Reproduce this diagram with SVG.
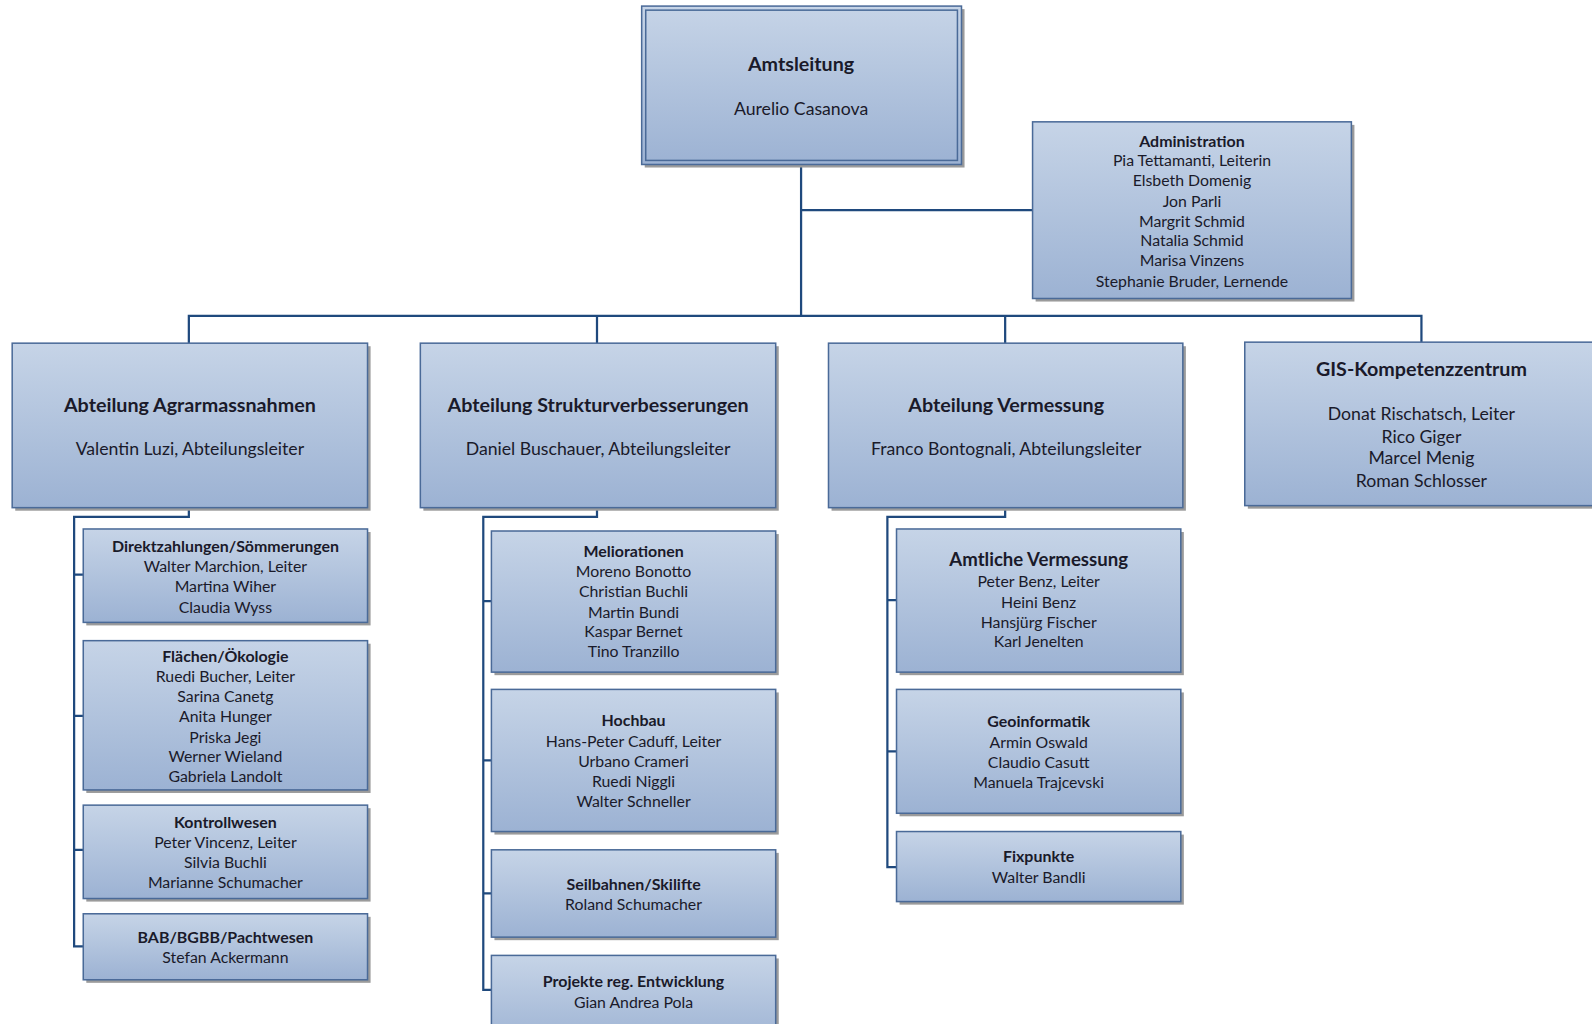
<svg xmlns="http://www.w3.org/2000/svg" width="1592" height="1024" viewBox="0 0 1592 1024">
<defs>
<linearGradient id="g" x1="0" y1="0" x2="0" y2="1">
<stop offset="0" stop-color="#c6d4e7"/>
<stop offset="1" stop-color="#9cb2d3"/>
</linearGradient>
<style>
.sh{fill:#9b9b9b}
.bx{fill:url(#g);stroke:#4a6a98;stroke-width:1.5}
.in{fill:none;stroke:#4a6a98;stroke-width:1.5}
.c{fill:none;stroke:#1f497d;stroke-width:2.2}
text{font-family:Lato,"Open Sans","Liberation Sans",sans-serif;fill:#1a1a2a;text-anchor:middle;dominant-baseline:central}
.t{font-weight:bold;font-size:15.7px}
.n{font-size:15.6px}
.T{font-weight:bold;font-size:19.4px}
.N{font-size:17.4px}
</style>
</defs>
<rect width="1592" height="1024" fill="#ffffff"/>
<g transform="scale(1.01531)">
<g id="connectors">
<path class="c" d="M789 162V311M789 207H1017M186 338V311H1400V337M588 311V338M990 311V338"/>
<path class="c" d="M186 500V509H73V932H82M73 566H82M73 705H82M73 837H82"/>
<path class="c" d="M588 500V509H476V975H484M476 592H484M476 749H484M476 880H484"/>
<path class="c" d="M990 500V509H874V854H883M874 591H883M874 740H883"/>
</g>
<g id="amtsleitung">
<rect class="sh" x="635" y="9" width="315" height="156"/>
<rect class="bx" x="632" y="6" width="315" height="156"/>
<rect class="in" x="636" y="10" width="307" height="148"/>
<text class="T" x="789" y="63">Amtsleitung</text>
<text class="N" x="789" y="107">Aurelio Casanova</text>
</g>
<g id="administration">
<rect class="sh" x="1020" y="123" width="314" height="174"/>
<rect class="bx" x="1017" y="120" width="314" height="174"/>
<text class="t" x="1174" y="138">Administration</text>
<text class="n" x="1174" y="157">Pia Tettamanti, Leiterin</text>
<text class="n" x="1174" y="177">Elsbeth Domenig</text>
<text class="n" x="1174" y="197">Jon Parli</text>
<text class="n" x="1174" y="217">Margrit Schmid</text>
<text class="n" x="1174" y="236">Natalia Schmid</text>
<text class="n" x="1174" y="256">Marisa Vinzens</text>
<text class="n" x="1174" y="276">Stephanie Bruder, Lernende</text>
</g>
<g id="agrar">
<rect class="sh" x="15" y="341" width="350" height="162"/>
<rect class="bx" x="12" y="338" width="350" height="162"/>
<text class="T" x="187" y="398">Abteilung Agrarmassnahmen</text>
<text class="N" x="187" y="442">Valentin Luzi, Abteilungsleiter</text>
</g>
<g id="struktur">
<rect class="sh" x="417" y="341" width="350" height="162"/>
<rect class="bx" x="414" y="338" width="350" height="162"/>
<text class="T" x="589" y="398">Abteilung Strukturverbesserungen</text>
<text class="N" x="589" y="442">Daniel Buschauer, Abteilungsleiter</text>
</g>
<g id="vermessung">
<rect class="sh" x="819" y="341" width="349" height="162"/>
<rect class="bx" x="816" y="338" width="349" height="162"/>
<text class="T" x="991" y="398">Abteilung Vermessung</text>
<text class="N" x="991" y="442">Franco Bontognali, Abteilungsleiter</text>
</g>
<g id="gis">
<rect class="sh" x="1229" y="340" width="370" height="161"/>
<rect class="bx" x="1226" y="337" width="370" height="161"/>
<text class="T" x="1400" y="363">GIS-Kompetenzzentrum</text>
<text class="N" x="1400" y="407">Donat Rischatsch, Leiter</text>
<text class="N" x="1400" y="430">Rico Giger</text>
<text class="N" x="1400" y="451">Marcel Menig</text>
<text class="N" x="1400" y="473">Roman Schlosser</text>
</g>
<g id="direktzahlungen">
<rect class="sh" x="85" y="524" width="280" height="92"/>
<rect class="bx" x="82" y="521" width="280" height="92"/>
<text class="t" x="222" y="537">Direktzahlungen/Sömmerungen</text>
<text class="n" x="222" y="557">Walter Marchion, Leiter</text>
<text class="n" x="222" y="577">Martina Wiher</text>
<text class="n" x="222" y="597">Claudia Wyss</text>
</g>
<g id="flaechen">
<rect class="sh" x="85" y="634" width="280" height="147"/>
<rect class="bx" x="82" y="631" width="280" height="147"/>
<text class="t" x="222" y="646">Flächen/Ökologie</text>
<text class="n" x="222" y="665">Ruedi Bucher, Leiter</text>
<text class="n" x="222" y="685">Sarina Canetg</text>
<text class="n" x="222" y="705">Anita Hunger</text>
<text class="n" x="222" y="725">Priska Jegi</text>
<text class="n" x="222" y="744">Werner Wieland</text>
<text class="n" x="222" y="764">Gabriela Landolt</text>
</g>
<g id="kontrollwesen">
<rect class="sh" x="85" y="796" width="280" height="92"/>
<rect class="bx" x="82" y="793" width="280" height="92"/>
<text class="t" x="222" y="809">Kontrollwesen</text>
<text class="n" x="222" y="829">Peter Vincenz, Leiter</text>
<text class="n" x="222" y="849">Silvia Buchli</text>
<text class="n" x="222" y="868">Marianne Schumacher</text>
</g>
<g id="bab">
<rect class="sh" x="85" y="903" width="280" height="65"/>
<rect class="bx" x="82" y="900" width="280" height="65"/>
<text class="t" x="222" y="922">BAB/BGBB/Pachtwesen</text>
<text class="n" x="222" y="942">Stefan Ackermann</text>
</g>
<g id="meliorationen">
<rect class="sh" x="487" y="526" width="280" height="139"/>
<rect class="bx" x="484" y="523" width="280" height="139"/>
<text class="t" x="624" y="542">Meliorationen</text>
<text class="n" x="624" y="562">Moreno Bonotto</text>
<text class="n" x="624" y="582">Christian Buchli</text>
<text class="n" x="624" y="602">Martin Bundi</text>
<text class="n" x="624" y="621">Kaspar Bernet</text>
<text class="n" x="624" y="641">Tino Tranzillo</text>
</g>
<g id="hochbau">
<rect class="sh" x="487" y="682" width="280" height="140"/>
<rect class="bx" x="484" y="679" width="280" height="140"/>
<text class="t" x="624" y="709">Hochbau</text>
<text class="n" x="624" y="729">Hans-Peter Caduff, Leiter</text>
<text class="n" x="624" y="749">Urbano Crameri</text>
<text class="n" x="624" y="769">Ruedi Niggli</text>
<text class="n" x="624" y="788">Walter Schneller</text>
</g>
<g id="seilbahnen">
<rect class="sh" x="487" y="840" width="280" height="86"/>
<rect class="bx" x="484" y="837" width="280" height="86"/>
<text class="t" x="624" y="870">Seilbahnen/Skilifte</text>
<text class="n" x="624" y="890">Roland Schumacher</text>
</g>
<g id="projekte">
<rect class="sh" x="487" y="944" width="280" height="90"/>
<rect class="bx" x="484" y="941" width="280" height="90"/>
<text class="t" x="624" y="966">Projekte reg. Entwicklung</text>
<text class="n" x="624" y="986">Gian Andrea Pola</text>
</g>
<g id="amtliche">
<rect class="sh" x="886" y="524" width="280" height="141"/>
<rect class="bx" x="883" y="521" width="280" height="141"/>
<text class="T" x="1023" y="551" style="font-size:18.3px">Amtliche Vermessung</text>
<text class="n" x="1023" y="572">Peter Benz, Leiter</text>
<text class="n" x="1023" y="592">Heini Benz</text>
<text class="n" x="1023" y="612">Hansjürg Fischer</text>
<text class="n" x="1023" y="631">Karl Jenelten</text>
</g>
<g id="geoinformatik">
<rect class="sh" x="886" y="682" width="280" height="122"/>
<rect class="bx" x="883" y="679" width="280" height="122"/>
<text class="t" x="1023" y="710">Geoinformatik</text>
<text class="n" x="1023" y="730">Armin Oswald</text>
<text class="n" x="1023" y="750">Claudio Casutt</text>
<text class="n" x="1023" y="770">Manuela Trajcevski</text>
</g>
<g id="fixpunkte">
<rect class="sh" x="886" y="822" width="280" height="69"/>
<rect class="bx" x="883" y="819" width="280" height="69"/>
<text class="t" x="1023" y="843">Fixpunkte</text>
<text class="n" x="1023" y="863">Walter Bandli</text>
</g>
</g>
</svg>
